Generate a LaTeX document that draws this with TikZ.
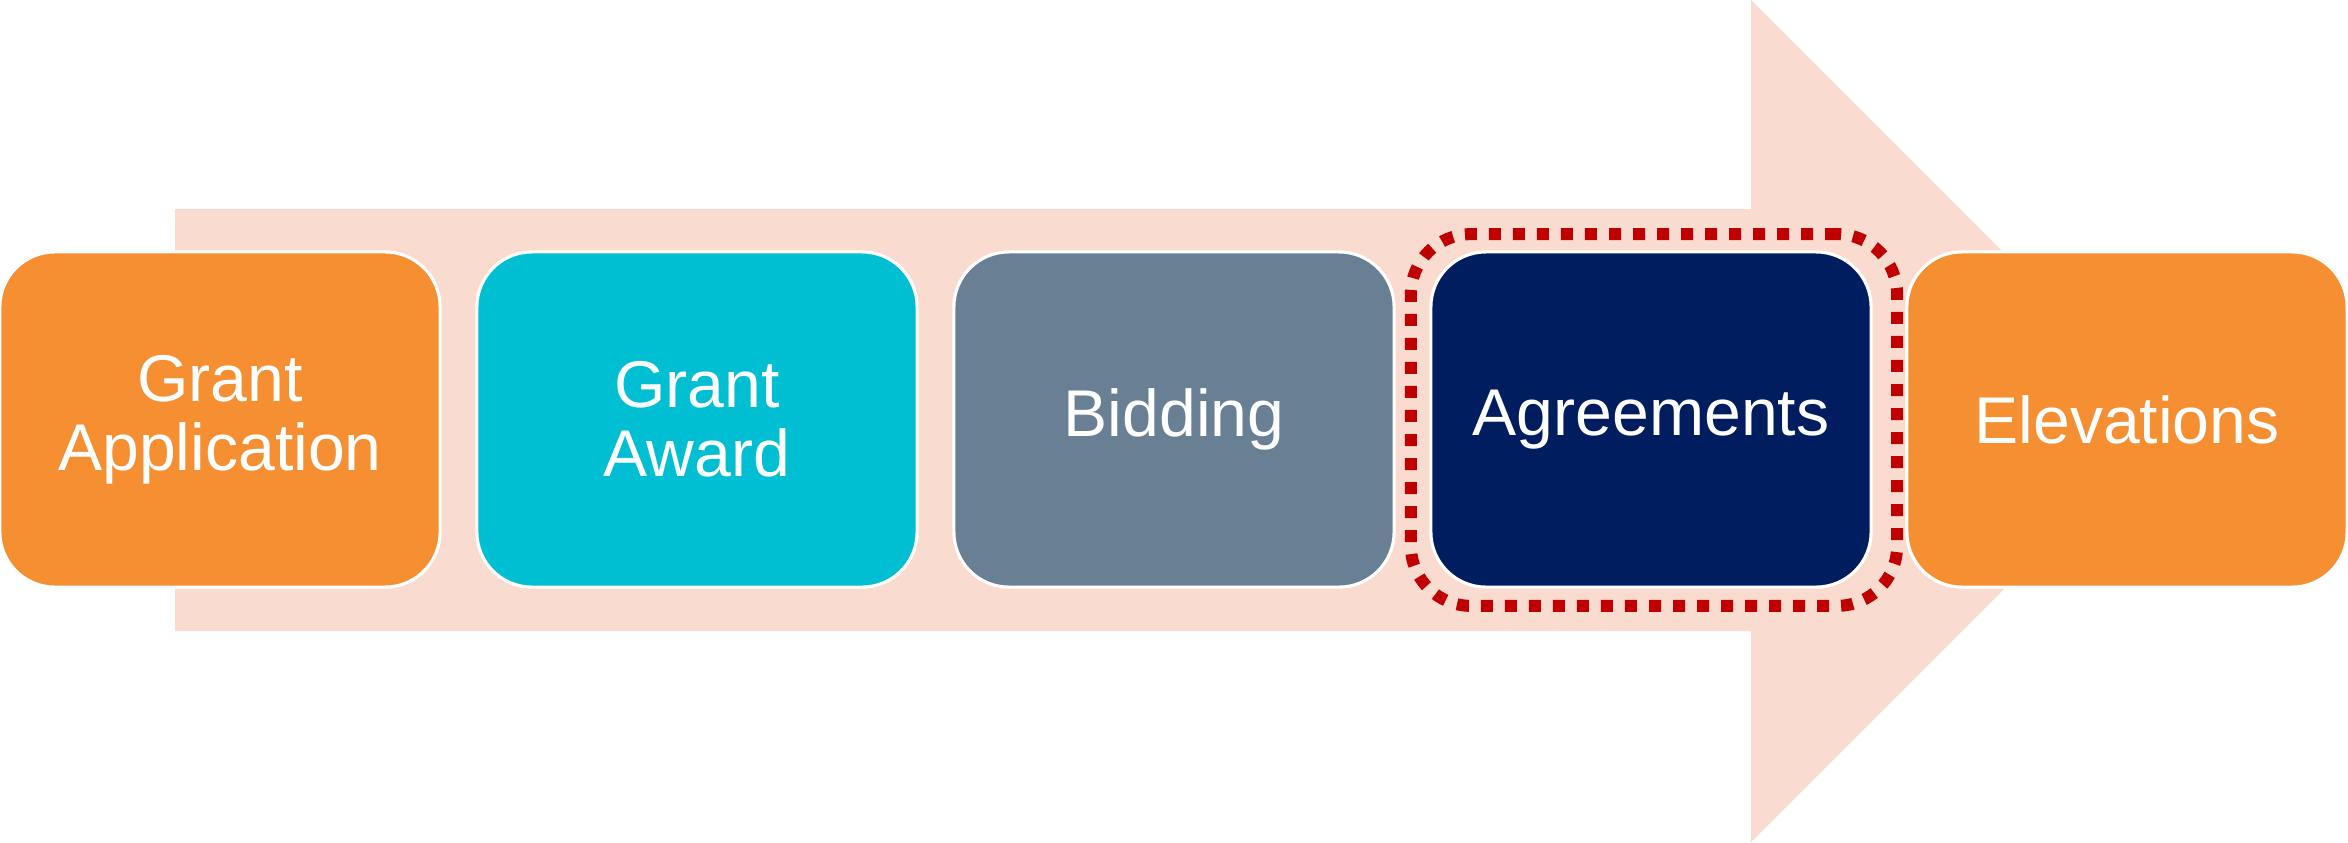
\documentclass[tikz,border=0pt]{standalone}
\usepackage{fontspec}
\setmainfont{Liberation Sans}
\usepackage{tikz}

\definecolor{arrowpink}{HTML}{F9DBD0}
\definecolor{stageorange}{HTML}{F58F31}
\definecolor{stagecyan}{HTML}{00BFD3}
\definecolor{stageslate}{HTML}{687F94}
\definecolor{stagenavy}{HTML}{001E5F}
\definecolor{focusred}{HTML}{C00000}

\begin{document}
\begin{tikzpicture}[x=0.01cm,y=-0.01cm,
    stage node/.style={rectangle,rounded corners=0.55cm,draw=white,line width=0.9pt,minimum width=4.4cm,minimum height=3.35cm,text=white,align=center,font=\fontsize{18.8}{19.6}\selectfont},
    focus node/.style={rectangle,rounded corners=0.6cm,draw=focusred,line width=0.12cm,dash pattern=on 0.12cm off 0.12cm}]
   \useasboundingbox (0,0) rectangle (2348,842);
   % the big arrow behind
   \fill[arrowpink] (175,209) -- (1751,209) -- (1751,0) -- (2172,421) -- (1751,842) -- (1751,631) -- (175,631) -- cycle;
   % dotted frame round the current step
   \node[focus node,minimum width=4.86cm,minimum height=3.715cm] (focus) at (1654,420) {};
   \node[stage node,fill=stageorange] (apply) at (220,419.5) {Grant\\Application};
   \node[stage node,fill=stagecyan] (award) at (697,419.5) {Grant\\Award};
   \node[stage node,fill=stageslate] (bid) at (1174,419.5) {Bidding};
   \node[stage node,fill=stagenavy] (agree) at (1651,419.5) {Agreements};
   \node[stage node,fill=stageorange] (elev) at (2127,419.5) {Elevations};
\end{tikzpicture}
\end{document}
